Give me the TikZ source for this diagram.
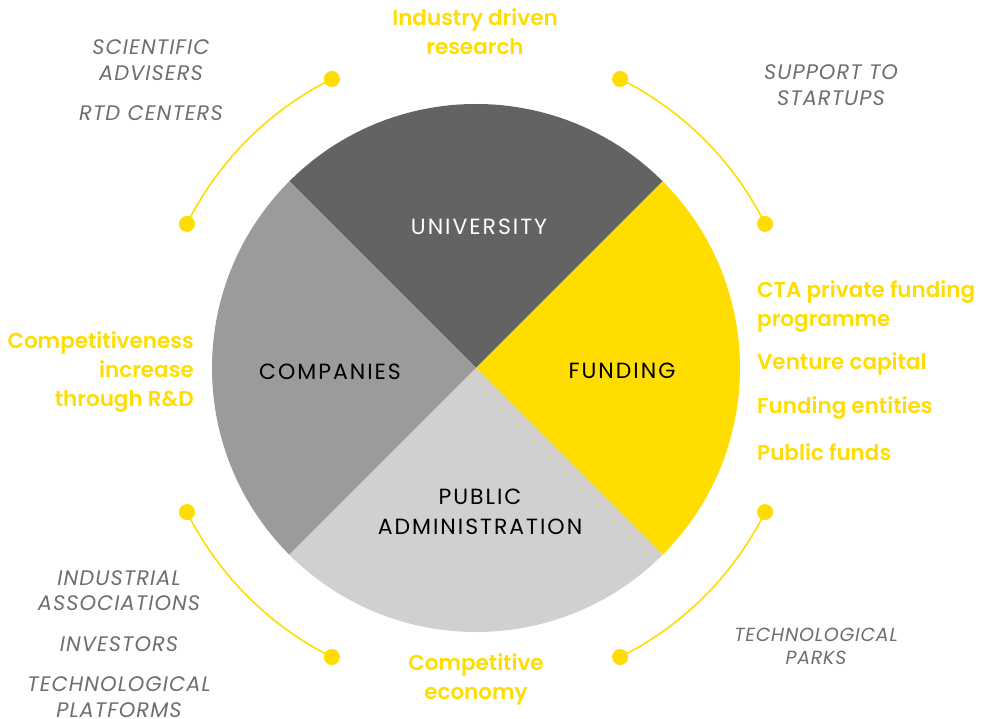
\documentclass[tikz,border=0pt]{standalone}
\usepackage{fontspec}
\setmainfont{Poppins}
\newfontfamily\yelfont{Poppins SemiBold}
\usetikzlibrary{calc}
\definecolor{yel}{HTML}{FFDD00}
\definecolor{dgray}{HTML}{636363}
\definecolor{mgray}{HTML}{9B9B9B}
\definecolor{lgray}{HTML}{D0D0D0}
\definecolor{tgray}{HTML}{6E6E6E}
\tikzset{
  seglbl/.style={align=center,inner sep=0pt,font=\fontsize{22}{30}\selectfont\addfontfeatures{LetterSpace=9}},
  graylbl/.style={align=center,inner sep=0pt,text=tgray,font=\fontsize{21}{25.5}\selectfont\itshape\addfontfeatures{LetterSpace=5}},
  smallgray/.style={align=center,inner sep=0pt,text=tgray,font=\fontsize{19}{23.5}\selectfont\itshape\addfontfeatures{LetterSpace=4}},
  yellbl/.style={inner sep=0pt,text=yel,font=\yelfont\fontsize{21.5}{29}\selectfont},
  dotn/.style={circle,fill=yel,minimum size=16pt,inner sep=0pt},
  arcline/.style={draw=yel,line width=1.6pt}
}
\begin{document}
\begin{tikzpicture}[x=1pt,y=1pt]
\useasboundingbox (0,0) rectangle (987,718);
\coordinate (C) at (476,350);
% pie
\fill[dgray] (C) -- ($(C)+(45:264)$) arc[start angle=45,end angle=135,radius=264] -- cycle;
\fill[mgray] (C) -- ($(C)+(135:264)$) arc[start angle=135,end angle=225,radius=264] -- cycle;
\fill[lgray] (C) -- ($(C)+(225:264)$) arc[start angle=225,end angle=315,radius=264] -- cycle;
\fill[yel] (C) -- ($(C)+(-45:264)$) arc[start angle=-45,end angle=45,radius=264] -- cycle;
% arcs with dots
\foreach \a/\n in {45/tr,135/tl,225/bl,315/br}{
  \draw[arcline] ($(C)+(\a-18.5:323)$) arc[start angle=\a-18.5,end angle=\a+18.5,radius=323];
  \node[dotn] (\n a) at ($(C)+(\a-18.5:323)$) {};
  \node[dotn] (\n b) at ($(C)+(\a+18.5:323)$) {};
}
% segment labels
\node[seglbl,text=white] (univ) at (479,491) {UNIVERSITY};
\node[seglbl] (comp) at (330,346) {COMPANIES};
\node[seglbl] (fund) at (622,347) {FUNDING};
\node[seglbl] (pub) at (480,206) {PUBLIC\\ADMINISTRATION};
% yellow labels
\node[yellbl,align=center] (ind) at (475,686) {Industry driven\\research};
\node[yellbl,align=right,anchor=east] (cmp) at (194,346) {Competitiveness\\increase\\through R\&D};
\node[yellbl,align=left,anchor=west] (cta) at (757,411.5) {CTA private funding\\programme};
\node[yellbl,anchor=west] (vc) at (757,354) {Venture capital};
\node[yellbl,anchor=west] (fe) at (757,310) {Funding entities};
\node[yellbl,anchor=west] (pf) at (757,266) {Public funds};
\node[yellbl,align=center] (ce) at (476,38.5) {Competitive\\economy};
% gray labels
\node[graylbl] (sci) at (151,658) {SCIENTIFIC\\ADVISERS};
\node[graylbl] (rtd) at (151,605) {RTD CENTERS};
\node[graylbl] (sup) at (831,633) {SUPPORT TO\\STARTUPS};
\node[graylbl] (ia) at (119,127.5) {INDUSTRIAL\\ASSOCIATIONS};
\node[graylbl] (inv) at (119,74) {INVESTORS};
\node[graylbl] (tp) at (119,21) {TECHNOLOGICAL\\PLATFORMS};
\node[smallgray] (tpk) at (816,71.5) {TECHNOLOGICAL\\PARKS};
\end{tikzpicture}
\end{document}
